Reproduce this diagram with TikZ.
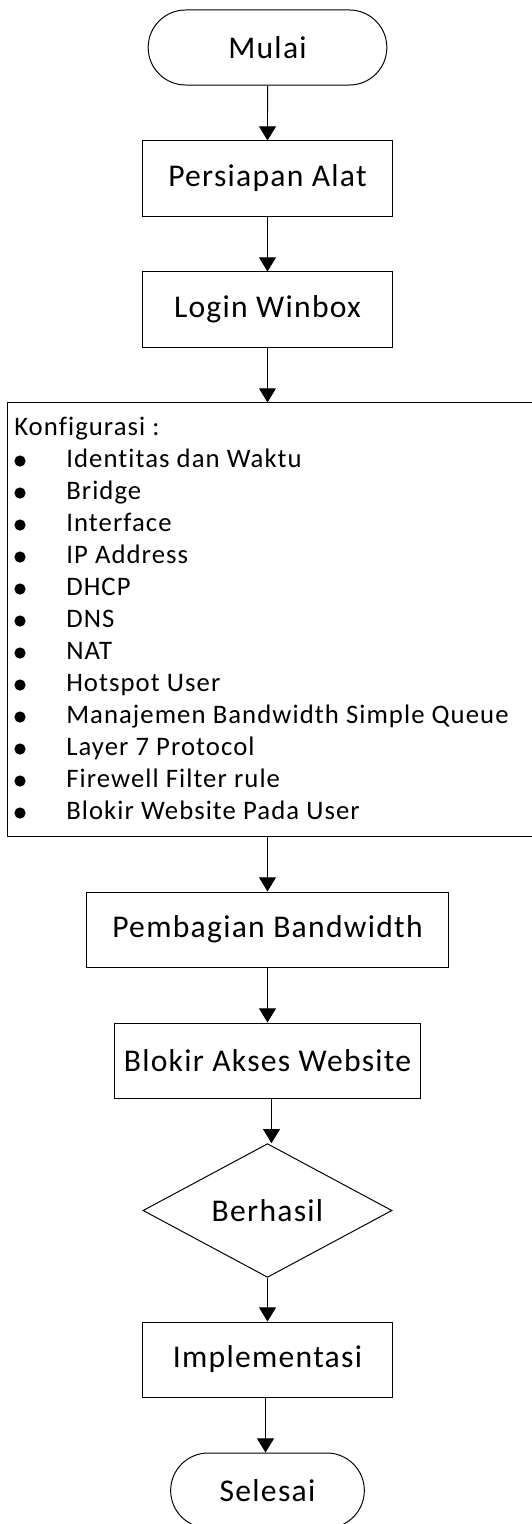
\documentclass[tikz,border=0pt]{standalone}
\usepackage{fontspec}
\setmainfont{Carlito}[LetterSpace=4.0, Ligatures=NoCommon]
\usepackage{tikz}
\usetikzlibrary{arrows.meta, positioning, shapes.geometric, shapes.misc}

\begin{document}
\begin{tikzpicture}[x=0.025cm, y=-0.025cm,
  terminal/.style={rounded rectangle, draw, line width=0.7pt, minimum height=1.875cm, font=\fontsize{22.5}{27}\selectfont},
  proses/.style={rectangle, draw, line width=0.7pt, minimum height=1.875cm, font=\fontsize{22.5}{27}\selectfont},
  keputusan/.style={diamond, draw, line width=0.7pt, inner sep=0pt, minimum width=6.225cm, minimum height=2.775cm, font=\fontsize{22.5}{27}\selectfont},
  daftar/.style={anchor=base west, inner sep=0pt, font=\fontsize{19}{23}\selectfont},
  panah/.style={-{Triangle[width=12pt,length=10pt]}, line width=0.7pt}]
\clip (0,0) rectangle (532,1524);

% Mulai
\node[terminal, minimum width=6.2cm] (mulai) at (267.5,47.5) {Mulai};

% Persiapan dan login
\node[proses, minimum width=6.225cm] (persiapan) at (267.5,178.5) {Persiapan Alat};
\node[proses, minimum width=6.225cm] (login) at (267.5,309.5) {Login Winbox};

% Konfigurasi
\node[rectangle, draw, line width=0.7pt, minimum width=13.3cm, minimum height=10.825cm] (konfig) at (274,619.5) {};
\node[daftar] (judul) at (14,435) {Konfigurasi :};
\foreach \teks [count=\i] in {Identitas dan Waktu, Bridge, Interface, IP Address, DHCP, DNS, NAT, Hotspot User, Manajemen Bandwidth Simple Queue, Layer 7 Protocol, Firewell Filter rule, Blokir Website Pada User} {
  \fill (20,{429+32*\i}) circle (0.14cm);
  \node[daftar] (item\i) at (66,{435+32*\i}) {\teks};
}

% Bandwidth dan blokir
\node[proses, minimum width=9.025cm] (pembagian) at (267.5,929.5) {Pembagian Bandwidth};
\node[proses, minimum width=7.625cm] (blokir) at (267.5,1060.5) {Blokir Akses Website};

% Keputusan
\node[keputusan] (berhasil) at (267.5,1210.5) {Berhasil};

% Implementasi dan selesai
\node[proses, minimum width=6.225cm] (implementasi) at (267.5,1359.5) {Implementasi};
\node[terminal, minimum width=5.075cm] (selesai) at (267.5,1490.5) {Selesai};

% Panah
\draw[panah] (mulai) -- (persiapan);
\draw[panah] (persiapan) -- (login);
\draw[panah] (login) -- (login |- konfig.north);
\draw[panah] (konfig.south -| pembagian) -- (pembagian);
\draw[panah] (pembagian) -- (blokir);
\draw[panah] ([xshift=0.1cm]blokir.south) -- ([xshift=0.1cm]berhasil.north);
\draw[panah] (berhasil) -- (implementasi);
\draw[panah] ([xshift=-0.05cm]implementasi.south) -- ([xshift=-0.05cm]selesai.north);

\end{tikzpicture}
\end{document}
